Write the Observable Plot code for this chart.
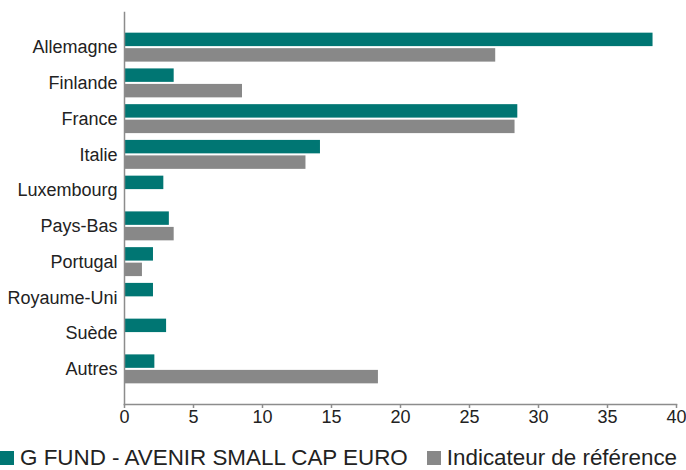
<!DOCTYPE html>
<html>
<head>
<meta charset="utf-8">
<script src="https://cdn.jsdelivr.net/npm/d3@7"></script>
<script src="https://cdn.jsdelivr.net/npm/@observablehq/plot@0.6"></script>
<style>
  body { margin: 0; background: #fff; font-family: "Liberation Sans", Arial, sans-serif; }
  #legend { display: flex; align-items: center; margin-top: 16px; font-size: 22.4px; line-height: 20px; height: 20px; color: #222; white-space: nowrap; }
  .sw { display: inline-block; width: 14px; height: 14px; margin-right: 6px; }
  .item { display: flex; align-items: center; margin-right: 19px; }
</style>
</head>
<body>
<div id="chart"></div>
<script>
const categories = ["Allemagne", "Finlande", "France", "Italie", "Luxembourg", "Pays-Bas", "Portugal", "Royaume-Uni", "Suède", "Autres"];
const fundValues = [38.3, 3.6, 28.5, 14.2, 2.85, 3.25, 2.1, 2.1, 3.05, 2.2];
const refValues = [26.9, 8.55, 28.3, 13.15, 0, 3.6, 1.3, 0, 0, 18.4];
const seriesNames = ["G FUND - AVENIR SMALL CAP EURO", "Indicateur de référence"];
const seriesColors = ["#007673", "#888888"];
const xTicks = [0, 5, 10, 15, 20, 25, 30, 35, 40];

const fundData = categories.map((c, i) => ({category: c, value: fundValues[i]}));
const refData = categories.map((c, i) => ({category: c, value: refValues[i]}));

const chart = Plot.plot({
  width: 686,
  height: 432,
  marginLeft: 124,
  marginRight: 10,
  marginTop: 12,
  marginBottom: 28,
  style: {fontSize: "18px", fontFamily: "'Liberation Sans', Arial, sans-serif", color: "#222", background: "#fff"},
  x: {domain: [0, 40], ticks: xTicks, label: null},
  y: {domain: categories, round: false, paddingInner: 0.19, paddingOuter: 0.578, label: null},
  marks: [
    Plot.barX(fundData, {x: "value", y: "category", fill: seriesColors[0], insetBottom: 15.5}),
    Plot.barX(refData, {x: "value", y: "category", fill: seriesColors[1], insetTop: 15.5}),
    Plot.frame({anchor: "left", stroke: "#8c8c8c", strokeWidth: 1.5}),
    Plot.frame({anchor: "bottom", stroke: "#8c8c8c", strokeWidth: 1.5}),
    Plot.axisX({ticks: xTicks, tickSize: 4, tickPadding: 2, stroke: "#8c8c8c", strokeWidth: 1.5, label: null}),
    Plot.axisY({tickSize: 0, tickPadding: 7, label: null})
  ]
});
document.getElementById("chart").appendChild(chart);

const legend = document.createElement("div");
legend.id = "legend";
seriesNames.forEach((name, i) => {
  const item = document.createElement("span");
  item.className = "item";
  const sw = document.createElement("span");
  sw.className = "sw";
  sw.style.background = seriesColors[i];
  item.appendChild(sw);
  item.appendChild(document.createTextNode(name));
  legend.appendChild(item);
});
document.getElementById("chart").appendChild(legend);
</script>
</body>
</html>
